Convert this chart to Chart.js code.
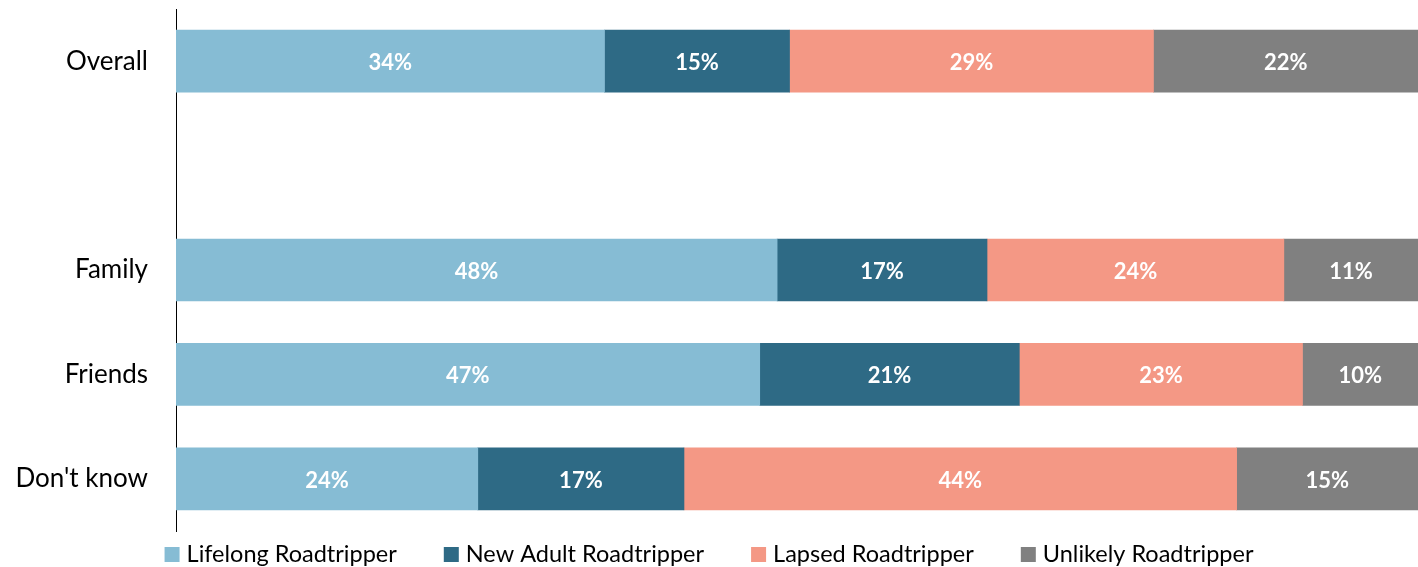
<!DOCTYPE html>
<html>
<head>
<meta charset="utf-8">
<script src="https://cdn.jsdelivr.net/npm/chart.js@4"></script>
<style>
  body { margin: 0; background: #fff; }
  #wrap { width: 1418px; height: 567px; position: relative; }
</style>
</head>
<body>
<div id="wrap"><canvas id="myChart"></canvas></div>
<script>
const kategooriad = ['Overall', '', 'Family', 'Friends', "Don't know"];
const seeriad = ['Lifelong Roadtripper', 'New Adult Roadtripper', 'Lapsed Roadtripper', 'Unlikely Roadtripper'];
const varvid = ['#86BCD4', '#2E6A85', '#F49885', '#808080'];

// share of each group
const lifelong = [34.5, null, 48.4, 47.0, 24.3];
const newAdult = [14.9, null, 16.9, 20.9, 16.6];
const lapsed = [29.3, null, 23.9, 22.8, 44.5];
const unlikely = [21.3, null, 10.8, 9.3, 14.6];

// labels printed on the bars
const lifelongSilt = ['34%', '', '48%', '47%', '24%'];
const newAdultSilt = ['15%', '', '17%', '21%', '17%'];
const lapsedSilt = ['29%', '', '24%', '23%', '44%'];
const unlikelySilt = ['22%', '', '11%', '10%', '15%'];

const vaartused = [lifelong, newAdult, lapsed, unlikely];
const sildid = [lifelongSilt, newAdultSilt, lapsedSilt, unlikelySilt];

const fontNimi = 'Lato, "Open Sans", sans-serif';

const ribaSildid = {
    id: 'ribaSildid',
    afterDatasetsDraw(chart) {
        const ctx = chart.ctx;
        ctx.save();
        ctx.fillStyle = '#fff';
        ctx.font = 'bold 22px ' + fontNimi;
        ctx.textAlign = 'center';
        ctx.textBaseline = 'middle';
        chart.data.datasets.forEach((ds, i) => {
            const meta = chart.getDatasetMeta(i);
            meta.data.forEach((el, j) => {
                const txt = sildid[i][j];
                if (!txt) return;
                ctx.fillText(txt, (el.x + el.base) / 2, el.y + 2);
            });
        });
        ctx.restore();
    }
};

const legend = {
    id: 'legend',
    afterDraw(chart) {
        const ctx = chart.ctx;
        ctx.save();
        ctx.font = '23.5px ' + fontNimi;
        ctx.textBaseline = 'middle';
        const kast = 15, vahe = 7, samm = 47;
        const laiused = chart.data.datasets.map(ds => kast + vahe + ctx.measureText(ds.label).width);
        const kokku = laiused.reduce((a, b) => a + b, 0) + samm * (laiused.length - 1);
        let x = chart.width / 2 - kokku / 2;
        const y = 554;
        chart.data.datasets.forEach((ds, i) => {
            ctx.fillStyle = ds.backgroundColor;
            ctx.fillRect(x, y - 7, kast, kast);
            ctx.fillStyle = '#000';
            ctx.fillText(ds.label, x + kast + vahe, y);
            x += laiused[i] + samm;
        });
        ctx.restore();
    }
};

const ctx = document.getElementById('myChart').getContext('2d');
const chart = new Chart(ctx, {
    type: 'bar',
    data: {
        labels: kategooriad,
        datasets: seeriad.map((s, i) => ({
            label: s,
            data: vaartused[i],
            backgroundColor: varvid[i],
            borderWidth: 0,
            barThickness: 62
        }))
    },
    options: {
        indexAxis: 'y',
        responsive: true,
        maintainAspectRatio: false,
        animation: false,
        layout: { padding: { top: 9, bottom: 36, left: 0, right: 0 } },
        plugins: {
            legend: { display: false },
            tooltip: { enabled: false }
        },
        scales: {
            x: {
                stacked: true,
                min: 0,
                max: 100,
                display: false
            },
            y: {
                stacked: true,
                grid: { display: false, drawTicks: false },
                border: { display: true, color: '#000', width: 1 },
                ticks: {
                    color: '#000',
                    padding: 28,
                    font: { family: fontNimi, size: 26 }
                },
                afterFit(scale) {
                    scale.width = 176;
                    scale.paddingTop = 0;
                    scale.paddingBottom = 0;
                }
            }
        }
    },
    plugins: [ribaSildid, legend]
});
</script>
</body>
</html>
